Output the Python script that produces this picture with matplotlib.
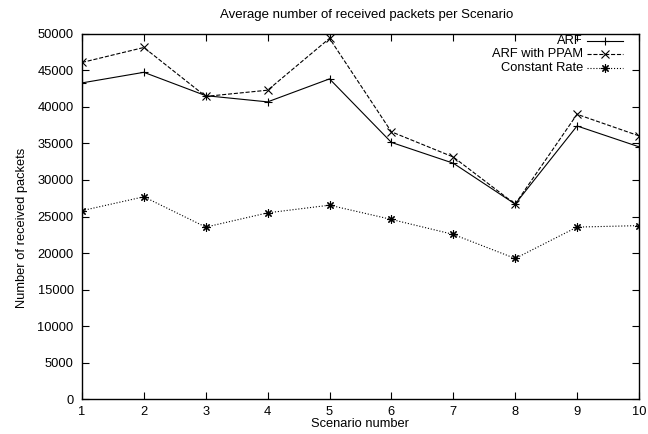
import matplotlib
matplotlib.use('Agg')
import matplotlib.pyplot as plt
from matplotlib.lines import Line2D

plt.rcParams['font.family'] = ['Liberation Sans', 'DejaVu Sans']
plt.rcParams['font.size'] = 9.3

# data
scenarios = [1, 2, 3, 4, 5, 6, 7, 8, 9, 10]
arf = [43300, 44750, 41550, 40700, 43850, 35150, 32300, 26700, 37400, 34550]
arf_ppam = [46100, 48150, 41450, 42300, 49400, 36600, 33150, 26700, 39000, 36050]
constant_rate = [25800, 27700, 23550, 25500, 26550, 24600, 22550, 19250, 23550, 23750]

labels = ['ARF', 'ARF with PPAM', 'Constant Rate']
styles = [('-', '+'), ('--', 'x'), (':', (8, 2, 0))]

fig = plt.figure(figsize=(6.48, 4.34), dpi=100)
ax = fig.add_axes([0.1265, 0.0806, 0.8595, 0.8411])

for series, (ls, mk) in zip([arf, arf_ppam, constant_rate], styles):
    ax.plot(scenarios, series, color='black', linestyle=ls, linewidth=0.8,
            marker=mk, markersize=6, markeredgewidth=0.8)

ax.set_xlim(1, 10)
ax.set_ylim(0, 50000)
ax.set_xticks(scenarios)
ax.set_yticks(range(0, 50001, 5000))
ax.tick_params(direction='in', top=True, right=True, length=5, width=0.8, labelsize=9.3)
ax.tick_params(axis='x', pad=5)
ax.tick_params(axis='y', pad=6)
for s in ax.spines.values():
    s.set_linewidth(1.0)

fig.text(0.566, 1 - 15 / 434, 'Average number of received packets per Scenario',
         ha='center', va='center', fontsize=9.5)
ax.set_xlabel('Scenario number', fontsize=9.3)
ax.xaxis.label.set_va('center')
ax.xaxis.set_label_coords(0.5, -0.068)
ax.set_ylabel('Number of received packets', fontsize=9.3, va='center')
ax.yaxis.set_label_coords(-0.108, 0.47)

# gnuplot-like legend: right-aligned text, sample on the right
for i, (lab, (ls, mk)) in enumerate(zip(labels, styles)):
    y = 0.981 - i * 0.037
    ax.text(0.8995, y, lab, transform=ax.transAxes, ha='right', va='center', fontsize=9.3)
    ax.add_line(Line2D([0.907, 0.971], [y, y], transform=ax.transAxes, color='black',
                       linestyle=ls, linewidth=0.8))
    ax.add_line(Line2D([0.939], [y], transform=ax.transAxes, color='black',
                       marker=mk, markersize=6, markeredgewidth=0.8))

fig.savefig('out.png', dpi=100)
